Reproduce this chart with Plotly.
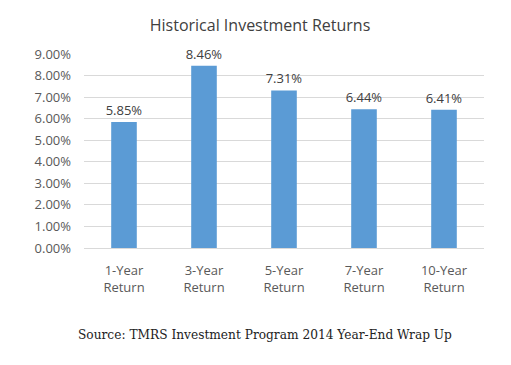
import plotly.graph_objects as go

categories = ["1-Year<br>Return", "3-Year<br>Return", "5-Year<br>Return", "7-Year<br>Return", "10-Year<br>Return"]
returns = [5.85, 8.46, 7.31, 6.44, 6.41]
tick_vals = [0, 1, 2, 3, 4, 5, 6, 7, 8, 9]
tick_text = ["%.2f%%" % v for v in tick_vals]

W, H = 511, 365
L, R, T, B = 76, 35, 46, 125
plot_h = H - T - B
plot_w = W - L - R

fig = go.Figure(go.Bar(
    x=categories, y=returns,
    marker=dict(color="#5B9BD5", line=dict(width=0)),
    text=["%.2f%%" % v for v in returns],
    textposition="outside",
    constraintext="none",
    textfont=dict(family="Open Sans", size=13, color="#404040"),
    cliponaxis=False,
))

fig.update_layout(
    width=W, height=H,
    margin=dict(l=L, r=R, t=T, b=B),
    paper_bgcolor="white", plot_bgcolor="white",
    bargap=0.68,
    showlegend=False,
    title=dict(text="Historical Investment Returns", x=252 / W, xanchor="center",
               y=1 - 17 / H, yanchor="middle",
               font=dict(family="Open Sans", size=16, color="#404040")),
    font=dict(family="Open Sans", color="#595959"),
)
fig.update_yaxes(range=[0, 9], tickvals=tick_vals, ticktext=tick_text,
                 showgrid=True, gridcolor="#D9D9D9", gridwidth=1,
                 zeroline=False, showline=False, ticks="",
                 tickfont=dict(family="Open Sans", size=13, color="#595959"),
                 ticklabelstandoff=12)
fig.update_xaxes(showline=True, linecolor="#D9D9D9", ticks="",
                 tickfont=dict(family="Open Sans", size=13, color="#595959"),
                 ticklabelstandoff=10)

fig.add_annotation(text="Source: TMRS Investment Program 2014 Year-End Wrap Up",
                   xref="paper", yref="paper", x=(256.5 - L) / plot_w, y=-(327 - (H - B)) / plot_h,
                   xanchor="center", yanchor="middle", showarrow=False,
                   font=dict(family="DejaVu Serif", size=12.2, color="#222222"))

fig.write_html("out.html")
